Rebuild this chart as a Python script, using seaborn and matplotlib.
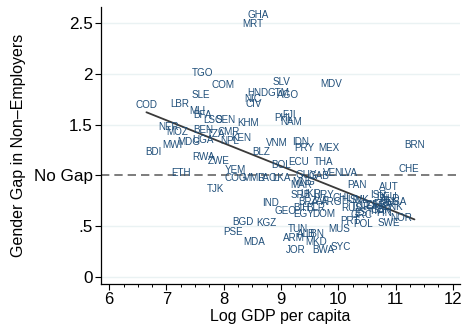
import matplotlib
matplotlib.use("Agg")
import matplotlib.pyplot as plt
import seaborn as sns
import numpy as np
import pandas as pd
from matplotlib.ticker import MultipleLocator

countries = ["GHA","MRT","TGO","COM","SLE","COD","LBR","HND","NIC","CIV","GTM","AGO","SLV","MDV",
             "PHL","FJI","NAM","KHM","LSO","SEN","MLI","BFA","NER","MOZ","BEN","MWI","MDG","UGA","BDI",
             "TZA","CMR","KEN","NPL","VNM","IDN","PRY","MEX","BRN","BLZ","BOL","ECU","THA","CHE","VEN",
             "LVA","GUY","GAB","LAO","LKA","YEM","COG","MMR","ETH","RWA","ZWE","TJK","IND","GEO","EGY",
             "DOM","BGD","KGZ","PSE","MDA","TUN","ALB","ARM","LBN","MKD","JOR","BWA","SYC","MUS","PAN",
             "AUT","MAR","MNG","SRB","UKR","URY","BRA","ZAF","ARG","BIH","BLR","CHL","HUN","SVK","RUS",
             "TUR","GRC","POL","PRT","SWE","NOR","USA","DEU","FRA","ESP","ITA","NLD","FIN","DNK","BEL",
             "ISR","GBR","CZE","EST"]
log_gdp = [8.61,8.51,7.63,7.98,7.60,6.65,7.23,8.60,8.51,8.53,8.95,9.12,9.00,9.88,
           9.05,9.14,9.18,8.42,7.82,8.04,7.54,7.63,7.04,7.19,7.65,7.11,7.39,7.63,6.77,
           7.86,8.08,8.30,8.10,8.93,9.35,9.40,9.84,11.33,8.65,9.00,9.30,9.75,11.23,9.91,
           10.19,9.44,9.67,8.75,9.00,8.21,8.21,8.53,7.25,7.65,7.91,7.86,8.81,9.07,9.40,
           9.75,8.33,8.74,8.16,8.53,9.30,9.44,9.23,9.58,9.61,9.26,9.74,10.05,10.02,10.32,
           10.89,9.35,9.40,9.35,9.52,9.74,9.47,9.68,9.89,9.35,9.61,10.07,10.23,10.37,10.23,
           10.40,10.40,10.44,10.20,10.88,11.10,11.02,10.85,10.78,10.65,10.68,10.90,10.80,10.95,10.88,
           10.70,10.75,10.55,10.45]
gap = [2.58,2.49,2.01,1.89,1.79,1.69,1.70,1.81,1.75,1.70,1.81,1.79,1.92,1.90,
       1.56,1.59,1.53,1.52,1.55,1.55,1.63,1.59,1.48,1.43,1.45,1.30,1.33,1.35,1.23,
       1.41,1.43,1.37,1.34,1.32,1.33,1.27,1.27,1.30,1.23,1.10,1.13,1.13,1.06,1.02,
       1.02,1.00,0.99,0.97,0.97,1.05,0.97,0.97,1.02,1.18,1.14,0.87,0.73,0.65,0.62,
       0.62,0.54,0.53,0.44,0.34,0.47,0.42,0.38,0.42,0.34,0.26,0.26,0.29,0.47,0.90,
       0.89,0.90,0.93,0.81,0.82,0.81,0.74,0.75,0.74,0.68,0.68,0.78,0.76,0.76,0.68,
       0.69,0.61,0.52,0.55,0.53,0.58,0.74,0.79,0.72,0.70,0.65,0.77,0.63,0.69,0.74,
       0.81,0.66,0.71,0.63]

df = pd.DataFrame({"x": log_gdp, "y": gap, "iso": countries})

sns.set_theme(style="white")
plt.rcParams["font.family"] = ["Liberation Sans", "DejaVu Sans"]
plt.rcParams["text.color"] = "black"
plt.rcParams["axes.labelcolor"] = "black"
plt.rcParams["xtick.color"] = "black"
plt.rcParams["ytick.color"] = "black"

fig = plt.figure(figsize=(4.62, 3.26), dpi=100)
ax = fig.add_axes([0.219, 0.129, 0.776, 0.85])

navy = "#1f4e79"
for xv, yv, t in zip(df["x"], df["y"], df["iso"]):
    ax.text(xv, yv, t, ha="center", va="center", fontsize=7.1, color=navy)

sns.regplot(data=df, x="x", y="y", scatter=False, ci=None, ax=ax,
            line_kws={"color": "#3a3a3a", "lw": 1.3})

ax.axhline(1, color="#666666", lw=1.2, ls=(0, (5, 3)), zorder=1)

ax.set_xlim(5.86, 12.12)
ax.set_ylim(-0.07, 2.66)
yt = [0, 0.5, 1, 1.5, 2, 2.5]
ax.set_yticks(yt)
ax.set_yticklabels(["0", ".5", "No Gap", "1.5", "2", "2.5"])
ax.set_xticks([6, 7, 8, 9, 10, 11, 12])
ax.xaxis.set_minor_locator(MultipleLocator(0.25))
for g in [0, 0.5, 1.5, 2, 2.5]:
    ax.axhline(g, color="#eaf2f3", lw=1, zorder=0)

ax.tick_params(axis="y", which="major", labelsize=12.3, labelcolor="black")
ax.tick_params(axis="x", which="major", labelsize=12, labelcolor="black")
ax.tick_params(axis="both", which="major", direction="out", length=4, width=0.8,
               color="black", left=True, bottom=True, pad=2)
ax.tick_params(axis="x", which="minor", direction="out", length=2.5, width=0.7,
               color="black", bottom=True)
ax.set_xlabel("Log GDP per capita", fontsize=11.5, labelpad=1, color="black")
ax.set_ylabel("Gender Gap in Non\u2013Employers", fontsize=11.5, labelpad=6, color="black")
for s in ["top", "right"]:
    ax.spines[s].set_visible(False)
for s in ["left", "bottom"]:
    ax.spines[s].set_color("black")
    ax.spines[s].set_linewidth(0.9)

fig.savefig("out.png", dpi=100, facecolor="white")
